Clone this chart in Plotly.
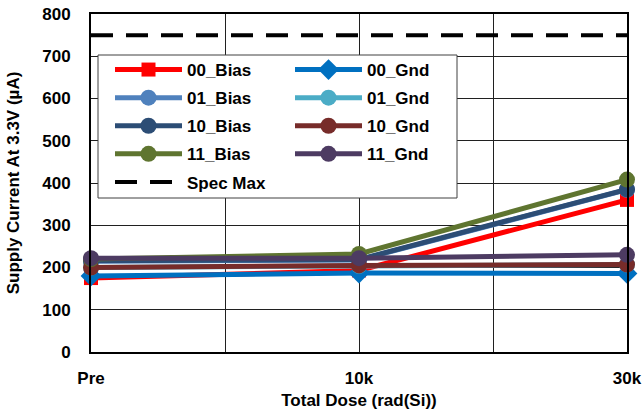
import plotly.graph_objects as go

doses = ["Pre", "10k", "30k"]
x_pos = [0, 1, 2]

bias_00 = [175, 193, 360]
gnd_00 = [180, 187, 186]
bias_01 = [215, 218, 384]
gnd_01 = [200, 204, 207]
bias_10 = [216, 219, 385]
gnd_10 = [200, 205, 207]
bias_11 = [220, 232, 408]
gnd_11 = [222, 222, 230]
spec_max = [750, 750]

series = [
    ("00_Bias", bias_00, "#FF0000", "square", 14, "legend"),
    ("00_Gnd", gnd_00, "#0070C0", "diamond", 16, "legend2"),
    ("01_Bias", bias_01, "#4F81BD", "circle", 16, "legend"),
    ("01_Gnd", gnd_01, "#4BACC6", "circle", 16, "legend2"),
    ("10_Bias", bias_10, "#2C4D75", "circle", 16, "legend"),
    ("10_Gnd", gnd_10, "#772C2A", "circle", 16, "legend2"),
    ("11_Bias", bias_11, "#5F7530", "circle", 16, "legend"),
    ("11_Gnd", gnd_11, "#4D3B62", "circle", 16, "legend2"),
]

fig = go.Figure()
for name, vals, color, sym, size, leg in series:
    fig.add_trace(go.Scatter(
        x=x_pos, y=vals, name=name, mode="lines+markers",
        line=dict(color=color, width=5),
        marker=dict(color=color, symbol=sym, size=size),
        cliponaxis=False, legend=leg, legendgroup=name,
    ))

fig.add_trace(go.Scatter(
    x=[x_pos[0], x_pos[-1]], y=spec_max, name="Spec Max", mode="lines",
    line=dict(color="black", width=4, dash="22px,13px"),
    legend="legend", legendgroup="Spec Max",
))

font = "Liberation Sans, Arial, sans-serif"
leg_common = dict(
    orientation="v", yanchor="top", xanchor="left",
    bgcolor="rgba(0,0,0,0)", borderwidth=0,
    itemwidth=67, tracegroupgap=3,
    font=dict(family=font, size=17, color="black", weight="bold"),
)

W, H = 643, 410
L, R, T, B = 91, 16, 14, 58
pw, ph = W - L - R, H - T - B

def px_x(x):
    return (x - L) / pw

def px_y(y):
    return (H - B - y) / ph

fig.update_layout(
    width=W, height=H,
    margin=dict(l=L, r=R, t=T, b=B, autoexpand=False),
    paper_bgcolor="white", plot_bgcolor="white",
    font=dict(family=font, size=17, color="black"),
    showlegend=True,
    legend=dict(x=px_x(110), y=px_y(52), **leg_common),
    legend2=dict(x=px_x(290), y=px_y(52), **leg_common),
    shapes=[dict(
        type="rect", xref="paper", yref="paper",
        x0=px_x(98), x1=px_x(457), y0=px_y(198), y1=px_y(55),
        fillcolor="white", line=dict(color="#404040", width=1), layer="above",
    )],
    xaxis=dict(
        range=[0, 2], automargin=False,
        tickvals=[0, 0.5, 1, 1.5, 2],
        ticktext=[doses[0], "", doses[1], "", doses[2]],
        showgrid=True, gridcolor="#202020", gridwidth=1,
        showline=True, linecolor="black", linewidth=2, mirror=True,
        ticks="", ticklabelstandoff=10,
        tickfont=dict(family=font, size=17, weight="bold"),
        title=dict(text="Total Dose (rad(Si))", font=dict(family=font, size=17, weight="bold"), standoff=17),
        zeroline=False,
    ),
    yaxis=dict(
        range=[0, 800], dtick=100, automargin=False,
        showgrid=True, gridcolor="#202020", gridwidth=1,
        showline=True, linecolor="black", linewidth=2, mirror=True,
        ticks="", ticklabelstandoff=15,
        tickfont=dict(family=font, size=17, weight="bold"),
        title=dict(text="Supply Current At 3.3V (µA)", font=dict(family=font, size=17, weight="bold"), standoff=18),
        zeroline=False,
    ),
)

fig.write_html("out.html")
